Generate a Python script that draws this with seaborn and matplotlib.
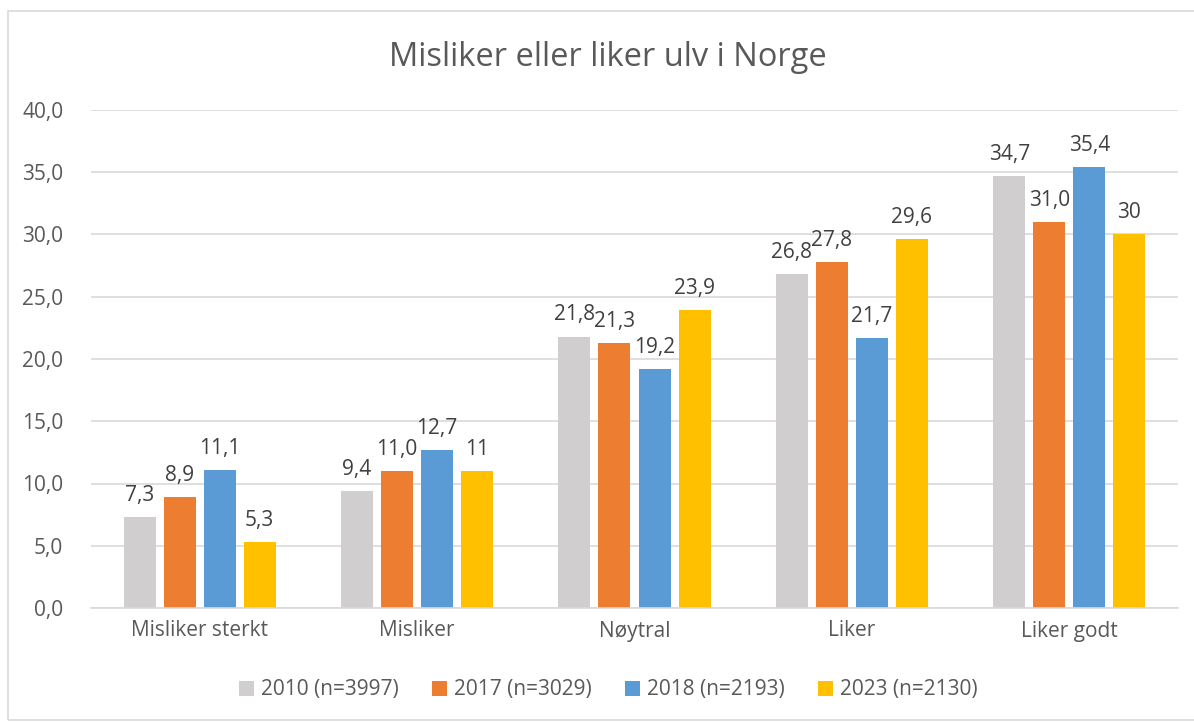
import matplotlib
matplotlib.use("Agg")
import matplotlib.pyplot as plt
import seaborn as sns
import pandas as pd
from matplotlib.patches import Rectangle

categories = ["Misliker sterkt", "Misliker", "Nøytral", "Liker", "Liker godt"]
series_names = ["2010 (n=3997)", "2017 (n=3029)", "2018 (n=2193)", "2023 (n=2130)"]
v2010 = [7.3, 9.4, 21.8, 26.8, 34.7]
v2017 = [8.9, 11.0, 21.3, 27.8, 31.0]
v2018 = [11.1, 12.7, 19.2, 21.7, 35.4]
v2023 = [5.3, 11.0, 23.9, 29.6, 30.0]
labels2010 = ["7,3", "9,4", "21,8", "26,8", "34,7"]
labels2017 = ["8,9", "11,0", "21,3", "27,8", "31,0"]
labels2018 = ["11,1", "12,7", "19,2", "21,7", "35,4"]
labels2023 = ["5,3", "11", "23,9", "29,6", "30"]
yticks = [0, 5, 10, 15, 20, 25, 30, 35, 40]
ytick_labels = ["0,0", "5,0", "10,0", "15,0", "20,0", "25,0", "30,0", "35,0", "40,0"]
colors = ["#D0CECE", "#ED7D31", "#5B9BD5", "#FFC000"]

rows = []
for name, vals in zip(series_names, [v2010, v2017, v2018, v2023]):
    for c, v in zip(categories, vals):
        rows.append({"kategori": c, "serie": name, "verdi": v})
df = pd.DataFrame(rows)

sns.set_theme(style="white")
plt.rcParams["font.family"] = ["Open Sans", "DejaVu Sans"]
text_color = "#595959"

fig = plt.figure(figsize=(11.94, 7.22), dpi=100)
ax = fig.add_axes([91 / 1194, 1 - 608 / 722, (1178 - 91) / 1194, (608 - 110) / 722])

sns.barplot(data=df, x="kategori", y="verdi", hue="serie", order=categories,
            hue_order=series_names, palette=colors, width=0.736, gap=0.2,
            errorbar=None, ax=ax, saturation=1, legend=True, linewidth=0)

ax.set_xlim(-0.5, 4.5)
ax.set_ylim(0, 40)
ax.set_yticks(yticks)
ax.set_yticklabels(ytick_labels, color=text_color, fontsize=15)
ax.tick_params(axis="x", colors=text_color, labelsize=15, length=0, pad=9)
ax.tick_params(axis="y", length=0, pad=20)
ax.set_xlabel("")
ax.set_ylabel("")
ax.grid(axis="y", color="#D9D9D9", linewidth=1.2)
ax.set_axisbelow(True)
for s in ["top", "right", "left"]:
    ax.spines[s].set_visible(False)
ax.spines["bottom"].set_color("#D9D9D9")
ax.spines["bottom"].set_linewidth(1.2)

for cont, labs in zip(ax.containers, [labels2010, labels2017, labels2018, labels2023]):
    ax.bar_label(cont, labels=labs, padding=8, color="#404040", fontsize=15)

handles, lbls = ax.get_legend_handles_labels()
ax.legend(handles, lbls, loc="center", bbox_to_anchor=(608 / 1194, 1 - 690 / 722),
          bbox_transform=fig.transFigure, ncol=4, frameon=False, fontsize=15,
          handlelength=0.75, handleheight=0.75, handletextpad=0.3, columnspacing=1.6,
          labelcolor=text_color)

fig.text(608 / 1194, 1 - 57 / 722, "Misliker eller liker ulv i Norge", ha="center",
         va="center", fontsize=23.5, color=text_color)

fig.patches.append(Rectangle((8 / 1194, 2 / 722), 1.2, 1 - 13 / 722, transform=fig.transFigure,
                             fill=False, edgecolor="#D9D9D9", linewidth=1.2))

fig.savefig("out.png", dpi=100)
